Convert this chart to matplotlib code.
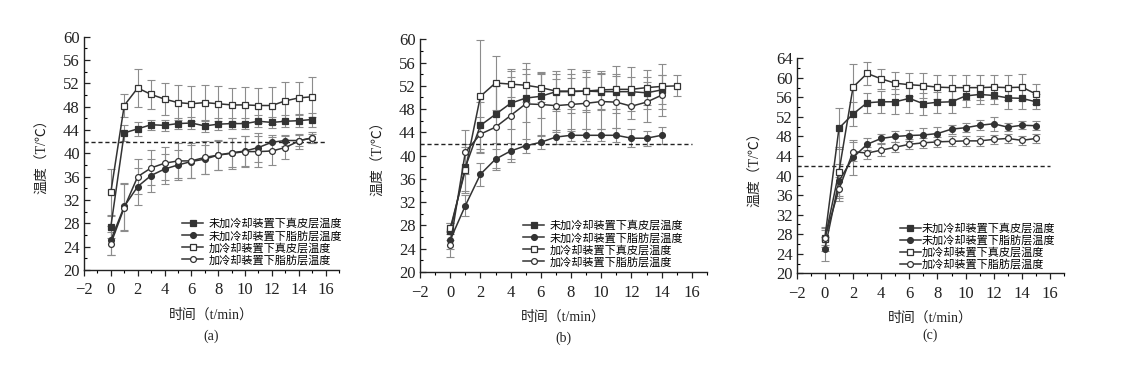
import numpy as np
import matplotlib
matplotlib.use("Agg")
import matplotlib.pyplot as plt
from matplotlib.ticker import MultipleLocator

plt.rcParams['font.family'] = ['Liberation Serif', 'Noto Sans CJK SC', 'DejaVu Sans']

labels = ['未加冷却装置下真皮层温度', '未加冷却装置下脂肪层温度',
          '加冷却装置下真皮层温度', '加冷却装置下脂肪层温度']

#%% panel (a)
t_a = np.arange(16)
fs_a = [27.4, 43.5, 44.2, 44.9, 44.8, 45.1, 45.2, 44.7, 45.0, 45.1, 45.1, 45.5, 45.3, 45.5, 45.6, 45.8]
fs_a_err = [2.0, 1.3, 1.2, 0.9, 1.0, 1.0, 1.0, 1.0, 1.0, 1.0, 1.0, 1.0, 1.0, 1.0, 1.0, 1.2]
fc_a = [25.1, 30.9, 34.3, 36.2, 37.3, 38.0, 38.6, 39.0, 39.7, 40.1, 40.4, 41.0, 41.9, 42.2, 42.2, 42.6]
fc_a_err = [2.5, 4.0, 3.2, 2.8, 2.6, 2.6, 2.8, 2.5, 2.5, 2.5, 2.6, 2.5, 1.3, 1.0, 1.0, 0.8]
os_a = [33.3, 48.2, 51.2, 50.1, 49.3, 48.7, 48.5, 48.7, 48.5, 48.3, 48.3, 48.2, 48.2, 49.0, 49.5, 49.7]
os_a_err = [4.0, 2.0, 3.3, 2.5, 2.7, 3.0, 3.0, 3.1, 3.0, 2.9, 3.0, 3.0, 3.1, 3.3, 2.8, 3.4]
oc_a = [24.5, 30.7, 36.0, 37.5, 38.3, 38.7, 38.7, 39.3, 39.7, 40.0, 40.3, 40.3, 40.4, 41.0, 42.1, 42.7]
oc_a_err = [2.0, 4.0, 3.0, 3.0, 2.8, 3.0, 3.0, 2.8, 2.6, 2.6, 2.7, 2.6, 2.4, 2.0, 1.3, 0.9]

#%% panel (b)
t_b = np.arange(15)
t_b_os = np.arange(16)
fs_b = [27.0, 38.0, 45.2, 47.1, 49.0, 49.9, 50.2, 51.0, 51.0, 51.1, 51.0, 51.0, 51.0, 50.8, 51.3]
fs_b_err = [1.5, 4.0, 4.0, 5.0, 4.5, 4.2, 3.8, 3.0, 3.0, 3.2, 3.2, 3.0, 2.5, 2.8, 2.5]
fc_b = [25.5, 31.4, 36.8, 39.4, 40.8, 41.7, 42.3, 43.2, 43.5, 43.5, 43.5, 43.5, 43.0, 43.0, 43.5]
fc_b_err = [1.5, 1.8, 2.0, 1.8, 1.4, 1.2, 1.2, 1.2, 1.0, 1.0, 1.0, 1.2, 1.5, 1.3, 1.5]
os_b = [27.5, 37.5, 50.2, 52.5, 52.3, 52.1, 51.7, 51.1, 51.1, 51.1, 51.3, 51.4, 51.4, 51.7, 51.9, 52.0]
os_b_err = [1.0, 4.0, 9.7, 4.6, 2.2, 2.8, 2.5, 3.5, 3.8, 3.6, 3.2, 4.0, 3.8, 3.0, 3.8, 1.8]
oc_b = [24.7, 40.6, 43.7, 44.9, 46.9, 48.9, 48.8, 48.6, 48.8, 49.0, 49.3, 49.2, 48.5, 49.2, 50.4]
oc_b_err = [2.2, 3.8, 3.0, 7.0, 8.0, 7.0, 5.5, 4.5, 4.5, 4.5, 4.8, 4.5, 2.2, 3.5, 3.5]

#%% panel (c)
t_c = np.arange(16)
fs_c = [27.3, 49.7, 52.6, 54.9, 55.1, 55.1, 55.8, 54.7, 55.0, 55.1, 56.3, 56.6, 56.4, 55.9, 55.8, 55.1]
fs_c_err = [2.0, 4.2, 2.5, 2.0, 2.2, 2.6, 3.0, 2.3, 2.2, 2.2, 2.2, 2.0, 1.8, 2.3, 2.2, 1.5]
fc_c = [25.0, 38.9, 43.7, 46.4, 47.6, 48.0, 48.2, 48.3, 48.6, 49.5, 49.8, 50.3, 50.6, 49.9, 50.3, 50.2]
fc_c_err = [2.5, 3.5, 3.5, 1.2, 1.0, 1.2, 1.2, 1.4, 1.3, 0.9, 0.9, 1.0, 1.4, 0.8, 0.8, 0.9]
os_c = [27.0, 40.8, 58.1, 60.9, 59.8, 58.9, 58.6, 58.4, 58.1, 58.0, 58.0, 58.0, 58.1, 58.0, 58.1, 56.7]
os_c_err = [2.5, 5.0, 4.8, 2.3, 2.0, 2.3, 2.4, 2.5, 2.5, 2.5, 2.5, 2.5, 2.5, 2.6, 2.6, 2.1]
oc_c = [27.3, 37.2, 44.9, 44.6, 45.2, 45.8, 46.4, 46.7, 46.9, 47.0, 47.1, 47.1, 47.4, 47.6, 47.2, 47.6]
oc_c_err = [1.5, 2.5, 2.0, 1.2, 1.2, 1.0, 1.0, 1.0, 1.0, 1.0, 1.0, 1.0, 1.0, 1.0, 1.0, 1.0]

threshold = 42

line_c = '#333333'
err_c = '#8c8c8c'
styles = [('s', line_c), ('o', line_c), ('s', 'white'), ('o', 'white')]

def draw(ax, series, ylim, yticks, leg_anchor, handletextpad, tag, xlab):
    for (x, y, e), lab, (mk, face) in zip(series, labels, styles):
        ax.errorbar(x, y, yerr=e, fmt='none', ecolor=err_c, elinewidth=0.8,
                    capsize=3, capthick=0.8, zorder=1)
        ax.plot(x, y, color=line_c, lw=1.1, marker=mk, ms=4.2,
                mfc=face, mec=line_c, mew=0.9, label=lab, zorder=3)
    ax.hlines(threshold, -2, 16, colors='#222222', linestyles=(0, (3, 2)), lw=1.0, zorder=2)
    ax.set_xlim(-2, 17)
    ax.set_ylim(*ylim)
    ax.set_xticks(np.arange(-2, 17, 2))
    ax.set_xticklabels(['\u22122'] + [str(v) for v in range(0, 17, 2)])
    ax.set_yticks(yticks)
    ax.xaxis.set_minor_locator(MultipleLocator(1))
    ax.yaxis.set_minor_locator(MultipleLocator(2))
    ax.tick_params(axis='x', which='major', direction='out', length=4, width=0.9,
                   labelsize=12, colors='#222222', pad=5)
    ax.tick_params(axis='x', which='minor', direction='out', length=2.5, width=0.8)
    ax.tick_params(axis='y', which='major', direction='in', length=4, width=0.9,
                   labelsize=12, colors='#222222', pad=3)
    ax.tick_params(axis='y', which='minor', direction='in', length=2.5, width=0.8)
    for s in ['top', 'right']:
        ax.spines[s].set_visible(False)
    for s in ['left', 'bottom']:
        ax.spines[s].set_linewidth(1.0)
        ax.spines[s].set_color('#222222')
    ax.set_ylabel('温度（T/℃）', fontsize=10, color='#222222', labelpad=10)
    ax.set_xlabel(xlab, fontsize=10, color='#222222', labelpad=7)
    ax.text(0.5, -0.255, tag, transform=ax.transAxes, ha='center', va='top',
            fontsize=10, color='#222222')
    ax.legend(loc='lower left', bbox_to_anchor=leg_anchor, frameon=False,
              handlelength=1.9, handletextpad=handletextpad,
              labelspacing=0.12, borderpad=0, borderaxespad=0,
              prop={'family': ['Noto Sans CJK SC'], 'size': 8})

fig = plt.figure(figsize=(11.41, 3.66), dpi=100)
ax_a = fig.add_axes([0.0736, 0.2623, 0.2235, 0.6375])
ax_b = fig.add_axes([0.3681, 0.2568, 0.2515, 0.6358])
ax_c = fig.add_axes([0.6983, 0.2533, 0.2343, 0.5874])

draw(ax_a, [(t_a, fs_a, fs_a_err), (t_a, fc_a, fc_a_err), (t_a, os_a, os_a_err), (t_a, oc_a, oc_a_err)],
     (20, 60), np.arange(20, 61, 4), (0.385, 0.02), 0.5, '(a)', '时间（t/min）')
draw(ax_b, [(t_b, fs_b, fs_b_err), (t_b, fc_b, fc_b_err), (t_b_os, os_b, os_b_err), (t_b, oc_b, oc_b_err)],
     (20, 60), np.arange(20, 61, 4), (0.36, 0.02), 0.5, '(b)', '时间（t/min）')
draw(ax_c, [(t_c, fs_c, fs_c_err), (t_c, fc_c, fc_c_err), (t_c, os_c, os_c_err), (t_c, oc_c, oc_c_err)],
     (20, 64), np.arange(20, 65, 4), (0.385, 0.015), 0.1, '(c)', '时间（t/min）')

fig.savefig('out.png', dpi=100, facecolor='white')
